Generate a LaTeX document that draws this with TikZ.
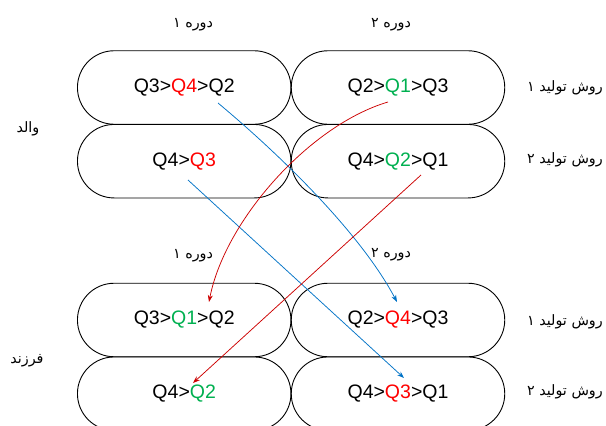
\documentclass[tikz,border=0pt]{standalone}
\usepackage{fontspec}
\setmainfont{Liberation Sans}
\newfontfamily\fa[Script=Arabic]{DejaVu Sans}
\TeXXeTstate=1
\usetikzlibrary{arrows.meta}
\definecolor{qred}{RGB}{255,0,0}
\definecolor{qgreen}{RGB}{0,176,80}
\definecolor{ablue}{RGB}{0,114,198}
\definecolor{ared}{RGB}{204,0,0}
\tikzset{
  box/.style={draw=black, line width=0.9pt, rounded corners=36.7pt, minimum width=213.5pt, minimum height=73.5pt, inner sep=0pt, font=\fontsize{19.5}{22}\selectfont},
  lbl/.style={font=\fa\fontsize{14.3}{17}\selectfont, inner sep=0pt},
  conn/.style={line width=0.75pt, -{Stealth[length=7pt,width=5pt]}}
}
\begin{document}
\begin{tikzpicture}[x=1pt,y=-1pt]
\useasboundingbox (0,0) rectangle (606,426);
\clip (0,0) rectangle (606,426);
% top group
\node[box] (p11) at (184.2,87.5) {Q3>\textcolor{qred}{Q4}>Q2};
\node[box] (p12) at (398,87.5) {Q2>\textcolor{qgreen}{Q1}>Q3};
\node[box] (p21) at (184.2,161.2) {Q4>\textcolor{qred}{Q3}};
\node[box] (p22) at (398,161.2) {Q4>\textcolor{qgreen}{Q2}>Q1};
% bottom group
\node[box] (c11) at (184.2,320) {Q3>\textcolor{qgreen}{Q1}>Q2};
\node[box] (c12) at (398,320) {Q2>\textcolor{qred}{Q4}>Q3};
\node[box] (c21) at (184.2,393.7) {Q4>\textcolor{qgreen}{Q2}};
\node[box] (c22) at (398,393.7) {Q4>\textcolor{qred}{Q3}>Q1};
% labels
\node[lbl] (t1) at (193,25) {\beginR دوره ۱\endR};
\node[lbl] (t2) at (391,25) {\beginR دوره ۲\endR};
\node[lbl] (b1) at (193,256) {\beginR دوره ۱\endR};
\node[lbl] (b2) at (391,255) {\beginR دوره ۲\endR};
\node[lbl] (vp) at (28,129) {\beginR والد\endR};
\node[lbl] (vc) at (27,361) {\beginR فرزند\endR};
\node[lbl, anchor=west] (r1) at (527,88) {\beginR روش تولید ۱\endR};
\node[lbl, anchor=west] (r2) at (527,160) {\beginR روش تولید ۲\endR};
\node[lbl, anchor=west] (r3) at (527,322) {\beginR روش تولید ۱\endR};
\node[lbl, anchor=west] (r4) at (527,392) {\beginR روش تولید ۲\endR};
% connector ends
\coordinate (sb1) at (218,103);
\coordinate (eb1) at (397,302);
\coordinate (sb2) at (188,180);
\coordinate (eb2) at (404,378);
\coordinate (sr1) at (388,102);
\coordinate (er1) at (209,302);
\coordinate (sr2) at (421,175);
\coordinate (er2) at (193,383);
\draw[conn, ablue] (sb1) .. controls (278,153) and (360,232) .. (eb1);
\draw[conn, ablue] (sb2) -- (eb2);
\draw[conn, ared] (sr1) .. controls (310,125) and (225,220) .. (er1);
\draw[conn, ared] (sr2) -- (er2);
\end{tikzpicture}
\end{document}
